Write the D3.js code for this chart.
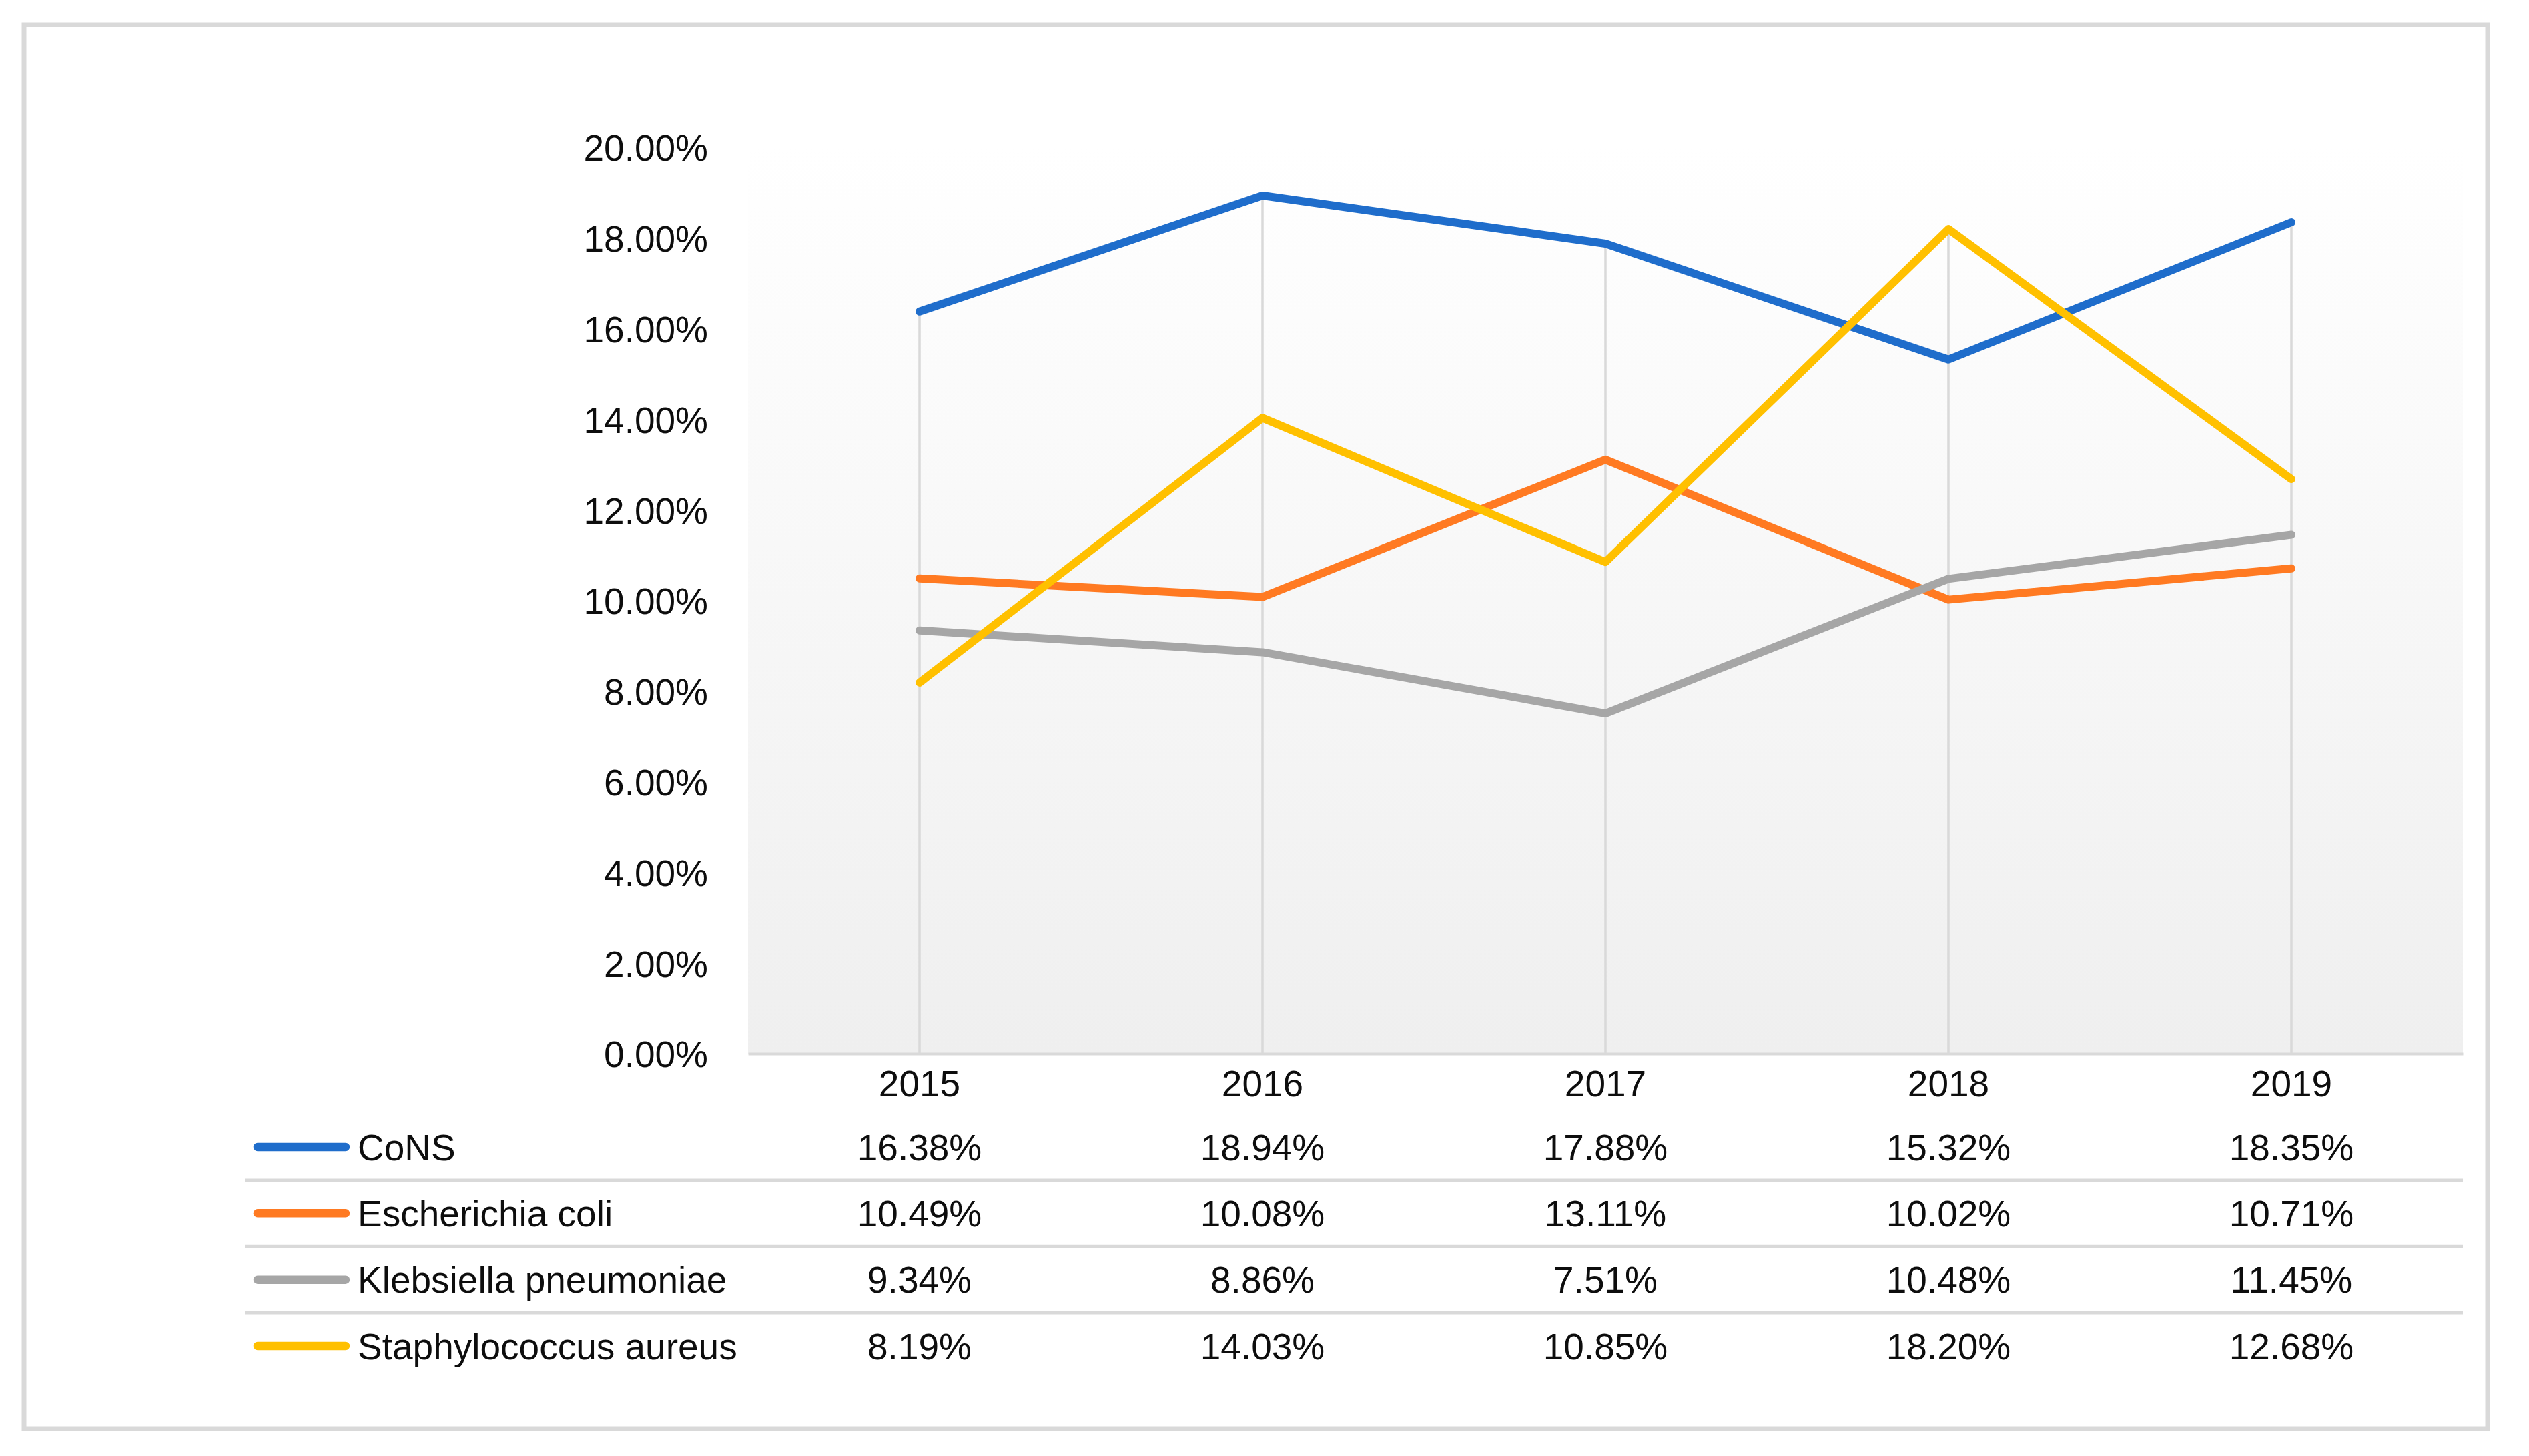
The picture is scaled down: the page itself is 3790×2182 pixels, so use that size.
<!DOCTYPE html>
<html>
<head>
<meta charset="utf-8">
<script src="https://cdn.jsdelivr.net/npm/d3@7"></script>
<style>
  html, body { margin: 0; padding: 0; background: #ffffff; }
  svg { display: block; }
  text { font-family: "Liberation Sans", Arial, sans-serif; fill: #0d0d0d; }
</style>
</head>
<body>
<svg id="chart" width="3790" height="2182"></svg>
<script>
const categories = ["2015", "2016", "2017", "2018", "2019"];
const seriesNames = ["CoNS", "Escherichia coli", "Klebsiella pneumoniae", "Staphylococcus aureus"];
const consValues = [0.1638, 0.1894, 0.1788, 0.1532, 0.1835];
const ecoliValues = [0.1049, 0.1008, 0.1311, 0.1002, 0.1071];
const klebValues = [0.0934, 0.0886, 0.0751, 0.1048, 0.1145];
const staphValues = [0.0819, 0.1403, 0.1085, 0.1820, 0.1268];
const yTicks = [0, 0.02, 0.04, 0.06, 0.08, 0.10, 0.12, 0.14, 0.16, 0.18, 0.20];
const seriesColors = ["#1f6dcb", "#ff7a22", "#a6a6a6", "#ffc000"];

const series = seriesNames.map((name, i) => ({
  name,
  color: seriesColors[i],
  values: [consValues, ecoliValues, klebValues, staphValues][i]
}));

const svg = d3.select("#chart");
const fontSize = 55;

// Outer frame
svg.append("rect")
  .attr("x", 36).attr("y", 37)
  .attr("width", 3728 - 36).attr("height", 2141 - 37)
  .attr("fill", "#ffffff")
  .attr("stroke", "#d9d9d9").attr("stroke-width", 7);

const plotLeft = 1121, plotRight = 3691, plotTop = 221, plotBottom = 1579;

const x = d3.scaleBand().domain(categories).range([plotLeft, plotRight]).padding(0);
const y = d3.scaleLinear().domain([0, 0.20]).range([plotBottom, plotTop]);
const cx = c => x(c) + x.bandwidth() / 2;

// Plot area gradient background
const defs = svg.append("defs");
const grad = defs.append("linearGradient").attr("id", "plotGrad")
  .attr("x1", 0).attr("y1", 0).attr("x2", 0).attr("y2", 1);
grad.append("stop").attr("offset", "0%").attr("stop-color", "#ffffff");
grad.append("stop").attr("offset", "100%").attr("stop-color", "#efefef");

svg.append("rect")
  .attr("x", plotLeft).attr("y", y(0.20))
  .attr("width", plotRight - plotLeft).attr("height", y(0) - y(0.20))
  .attr("fill", "url(#plotGrad)");

// Drop lines (from highest point to axis)
svg.append("g").selectAll("line")
  .data(categories)
  .join("line")
  .attr("x1", d => cx(d)).attr("x2", d => cx(d))
  .attr("y1", (d, i) => y(d3.max(series, s => s.values[i])))
  .attr("y2", y(0))
  .attr("stroke", "#d9d9d9").attr("stroke-width", 3.5);

// Y axis
const yAxis = svg.append("g")
  .attr("transform", `translate(1061,0)`)
  .call(d3.axisLeft(y).tickValues(yTicks).tickFormat(d3.format(".2%")).tickSize(0).tickPadding(0));
yAxis.select(".domain").remove();
yAxis.selectAll("text")
  .attr("dy", "0.36em")
  .style("font-size", fontSize + "px")
  .style("font-family", '"Liberation Sans", Arial, sans-serif')
  .attr("fill", "#0d0d0d");

// X axis
const xAxis = svg.append("g")
  .attr("transform", `translate(0,${plotBottom})`)
  .call(d3.axisBottom(x).tickSize(0).tickSizeOuter(0).tickPadding(25));
xAxis.select(".domain").attr("stroke", "#d9d9d9").attr("stroke-width", 4);
xAxis.selectAll("text")
  .style("font-size", fontSize + "px")
  .style("font-family", '"Liberation Sans", Arial, sans-serif')
  .attr("fill", "#0d0d0d");

// Lines
const line = d3.line()
  .x((v, i) => cx(categories[i]))
  .y(v => y(v));

svg.append("g").selectAll("path")
  .data(series)
  .join("path")
  .attr("d", s => line(s.values))
  .attr("fill", "none")
  .attr("stroke", s => s.color)
  .attr("stroke-width", 12)
  .attr("stroke-linejoin", "round")
  .attr("stroke-linecap", "round");

// Data table
const rowY = d3.scaleLinear().domain([0, 3]).range([1719, 2017]);
const rowGap = rowY(1) - rowY(0);

// Separators
svg.append("g").selectAll("line")
  .data([1, 2, 3])
  .join("line")
  .attr("x1", 367).attr("x2", plotRight)
  .attr("y1", d => rowY(d) - rowGap / 2).attr("y2", d => rowY(d) - rowGap / 2)
  .attr("stroke", "#d9d9d9").attr("stroke-width", 4.5);

const rows = svg.append("g").selectAll("g")
  .data(series)
  .join("g")
  .attr("transform", (s, i) => `translate(0,${rowY(i)})`);

rows.append("line")
  .attr("x1", 386).attr("x2", 518)
  .attr("y1", 0).attr("y2", 0)
  .attr("stroke", s => s.color)
  .attr("stroke-width", 12.5)
  .attr("stroke-linecap", "round");

rows.append("text")
  .attr("x", 536).attr("y", 0).attr("dy", "0.36em")
  .style("font-size", fontSize + "px")
  .text(s => s.name);

rows.selectAll("text.val")
  .data(s => s.values)
  .join("text")
  .attr("class", "val")
  .attr("x", (v, i) => cx(categories[i]))
  .attr("y", 0).attr("dy", "0.36em")
  .attr("text-anchor", "middle")
  .style("font-size", fontSize + "px")
  .text(v => d3.format(".2%")(v));
</script>
</body>
</html>
